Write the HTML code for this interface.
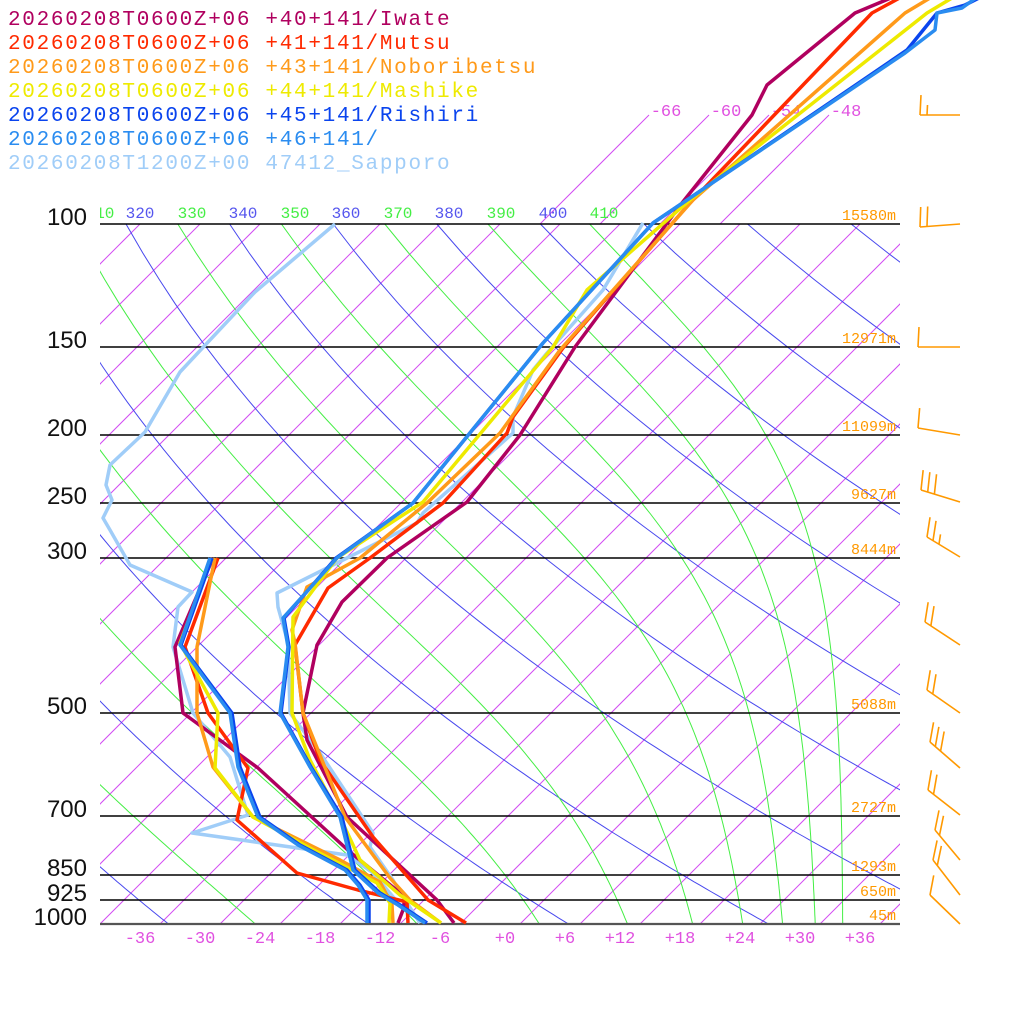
<!DOCTYPE html>
<html><head><meta charset="utf-8"><style>
html,body{margin:0;padding:0;background:#fff;}
svg{display:block;}
.lg{font-family:"Liberation Mono",monospace;font-size:21px;letter-spacing:1.7px;}
.pl{font-family:"Liberation Sans",sans-serif;font-size:24px;fill:#111;}
.tk{font-family:"Liberation Mono",monospace;font-size:17px;fill:#e050e0;}
.th{font-family:"Liberation Mono",monospace;font-size:16px;}
.hm{font-family:"Liberation Mono",monospace;font-size:15px;fill:#ff9900;}
</style></head><body>
<svg id="s" width="1024" height="1024" viewBox="0 0 1024 1024" xmlns="http://www.w3.org/2000/svg">
<defs>
<clipPath id="pc"><rect x="100" y="224" width="800" height="700"/></clipPath>
<clipPath id="pc2"><rect x="100" y="112" width="800" height="812"/></clipPath>
<clipPath id="all"><rect x="0" y="0" width="1024" height="1024"/></clipPath>
</defs>
<g id="grid"></g>
<g id="plines" stroke="#000" stroke-width="1.6">
<line x1="100" y1="224" x2="900" y2="224"/><line x1="100" y1="347" x2="900" y2="347"/>
<line x1="100" y1="435" x2="900" y2="435"/><line x1="100" y1="503" x2="900" y2="503"/>
<line x1="100" y1="558" x2="900" y2="558"/><line x1="100" y1="713" x2="900" y2="713"/>
<line x1="100" y1="816" x2="900" y2="816"/><line x1="100" y1="875" x2="900" y2="875"/>
<line x1="100" y1="900" x2="900" y2="900"/><line x1="100" y1="924" x2="900" y2="924" stroke="#555" stroke-width="2.2"/>
</g>
<g class="pl" text-anchor="end">
<text x="87" y="225">100</text><text x="87" y="348">150</text><text x="87" y="436">200</text>
<text x="87" y="504">250</text><text x="87" y="559">300</text><text x="87" y="714">500</text>
<text x="87" y="817">700</text><text x="87" y="876">850</text><text x="87" y="901">925</text>
<text x="87" y="925">1000</text>
</g>
<g class="tk" text-anchor="middle">
<text x="140" y="943">-36</text><text x="200" y="943">-30</text><text x="260" y="943">-24</text>
<text x="320" y="943">-18</text><text x="380" y="943">-12</text><text x="440" y="943">-6</text>
<text x="505" y="943">+0</text><text x="565" y="943">+6</text><text x="620" y="943">+12</text>
<text x="680" y="943">+18</text><text x="740" y="943">+24</text><text x="800" y="943">+30</text>
<text x="860" y="943">+36</text>
<text x="666" y="116">-66</text><text x="726" y="116">-60</text><text x="786" y="116">-54</text><text x="846" y="116">-48</text>
</g>
<g class="th" text-anchor="middle">
<text x="100" y="218" fill="#44ee44" clip-path="url(#pc2)">310</text>
<text x="140" y="218" fill="#5555ee">320</text><text x="192" y="218" fill="#44ee44">330</text>
<text x="243" y="218" fill="#5555ee">340</text><text x="295" y="218" fill="#44ee44">350</text>
<text x="346" y="218" fill="#5555ee">360</text><text x="398" y="218" fill="#44ee44">370</text>
<text x="449" y="218" fill="#5555ee">380</text><text x="501" y="218" fill="#44ee44">390</text>
<text x="553" y="218" fill="#5555ee">400</text><text x="604" y="218" fill="#44ee44">410</text>
</g>
<g class="hm" text-anchor="end">
<text x="896" y="220">15580m</text><text x="896" y="343">12971m</text><text x="896" y="431">11099m</text>
<text x="896" y="499">9627m</text><text x="896" y="554">8444m</text><text x="896" y="709">5088m</text>
<text x="896" y="812">2727m</text><text x="896" y="871">1293m</text><text x="896" y="896">650m</text>
<text x="896" y="920">45m</text>
</g>
<g id="series" fill="none" stroke-width="3.5" stroke-linejoin="round" clip-path="url(#all)"></g>
<g id="barbs" fill="none" stroke="#ff9900" stroke-width="1.6"></g>
<g class="lg">
<text x="8" y="25" fill="#b0005f">20260208T0600Z+06 +40+141/Iwate</text>
<text x="8" y="49" fill="#ff2a00">20260208T0600Z+06 +41+141/Mutsu</text>
<text x="8" y="73" fill="#ff9a1a">20260208T0600Z+06 +43+141/Noboribetsu</text>
<text x="8" y="97" fill="#eeea00">20260208T0600Z+06 +44+141/Mashike</text>
<text x="8" y="121" fill="#0a44ee">20260208T0600Z+06 +45+141/Rishiri</text>
<text x="8" y="145" fill="#2a8cf0">20260208T0600Z+06 +46+141/</text>
<text x="8" y="169" fill="#a0cdf8">20260208T1200Z+00 47412_Sapporo</text>
</g>
</svg>
<script>
(function(){
var NS="http://www.w3.org/2000/svg";
function el(parent,tag,attrs){var e=document.createElementNS(NS,tag);for(var k in attrs)e.setAttribute(k,attrs[k]);parent.appendChild(e);return e;}
var grid=document.getElementById('grid');
function yOf(p){return 924-700*Math.log10(1000/p);}
function xOf(Tc,y){return 500+10*Tc+(924-y);}
var gi=el(grid,'g',{stroke:'#d24cf2','stroke-width':'1','clip-path':'url(#pc)'});
for(var T=-160;T<=60;T+=6){
  el(gi,'line',{x1:xOf(T,924),y1:924,x2:xOf(T,224),y2:224});
}
var gi2=el(grid,'g',{stroke:'#d24cf2','stroke-width':'1','clip-path':'url(#pc2)'});
[-66,-60,-54,-48].forEach(function(T){el(gi2,'line',{x1:xOf(T,224),y1:224,x2:xOf(T,115),y2:115});});
var gd=el(grid,'g',{stroke:'#4848ee','stroke-width':'1',fill:'none','clip-path':'url(#pc)'});
for(var th=200;th<=460;th+=20){
  var d='';
  for(var p=1000;p>=100;p-=10){var Tk=th*Math.pow(p/1000,0.2857);var y=yOf(p);var x=xOf(Tk-273.15,y);d+=(d?'L':'M')+x.toFixed(1)+','+y.toFixed(1);}
  el(gd,'path',{d:d});
}
function the(Tk,p){var Tc=Tk-273.15;var es=6.112*Math.exp(17.67*Tc/(Tc+243.5));var rs=0.622*es/Math.max(p-es,1);return Tk*Math.pow(1000/p,0.2857)*Math.exp(2.5e6*rs/(1004*Tk));}
var gm=el(grid,'g',{stroke:'#44ee44','stroke-width':'1',fill:'none','clip-path':'url(#pc)'});
for(var E=210;E<=470;E+=20){
  var d='',first=null;
  for(var p=1000;p>=100;p-=10){
    var lo=150,hi=340;
    for(var i=0;i<50;i++){var m=(lo+hi)/2;if(the(m,p)<E)lo=m;else hi=m;}
    var y=yOf(p);var x=xOf(lo-273.15,y);if(first===null)first=x;d+=(d?'L':'M')+x.toFixed(1)+','+y.toFixed(1);
  }
  if(first<=845) el(gm,'path',{d:d});
}
var S=document.getElementById('series');
function pl(col,pts,w){el(S,'polyline',{stroke:col,'stroke-width':w||3.5,points:pts.map(function(a){return a.join(',');}).join(' ')});}
var C={iw:'#b0005f',mu:'#ff2a00',no:'#ff9a1a',ma:'#eeea00',ri:'#0a44ee',p46:'#2a8cf0',sa:'#a0cdf8'};
pl(C.sa,[[420,923],[405,900],[397,887],[393,880],[370,847],[373,833],[320,753],[290,713],[288,643],[278,607],[277,593],[297,583],[417,523],[423,513],[513,433],[513,417],[533,370],[547,353],[603,290],[643,223]]);
pl(C.sa,[[335,224],[255,292],[180,372],[145,432],[110,465],[106,485],[112,500],[103,518],[110,530],[130,565],[192,592],[178,607],[173,647],[193,713],[230,757],[248,815],[192,833],[347,855],[372,872],[400,905],[425,923]]);
pl(C.iw,[[454,923],[437,900],[347,817],[307,740],[303,713],[317,645],[342,602],[387,558],[467,502],[520,435],[575,347],[682,203],[752,115],[767,85],[855,13],[905,-8]]);
pl(C.iw,[[398,923],[403,910],[405,897],[350,852],[258,768],[183,713],[175,647],[213,558]]);
pl(C.mu,[[466,923],[428,900],[373,837],[320,760],[303,713],[295,645],[328,588],[370,558],[443,503],[507,433],[513,417],[563,348],[690,203],[872,13],[905,-5]]);
pl(C.mu,[[408,923],[407,902],[358,890],[297,873],[237,820],[248,768],[208,713],[185,647],[218,558]]);
pl(C.no,[[441,923],[410,900],[390,878],[345,817],[303,713],[295,643],[292,630],[307,587],[360,558],[427,503],[500,433],[560,350],[693,200],[905,13],[935,-5]]);
pl(C.no,[[393,923],[392,905],[380,882],[340,860],[253,817],[213,767],[197,713],[197,647],[215,558]]);
pl(C.ma,[[441,923],[400,895],[360,860],[340,817],[310,760],[292,713],[293,617],[337,558],[423,502],[553,347],[587,290],[690,200],[927,13],[957,-5]]);
pl(C.ma,[[389,923],[390,903],[377,883],[310,848],[253,817],[215,768],[218,713],[180,643],[212,558]]);
pl(C.ri,[[427,923],[400,905],[380,893],[355,870],[342,817],[311,767],[281,713],[289,647],[284,618],[336,558],[413,503],[543,343],[653,223],[687,200],[907,50],[937,13],[965,5],[985,-5]]);
pl(C.ri,[[369,923],[369,900],[360,885],[347,870],[300,845],[260,817],[240,767],[232,713],[181,645],[212,558]]);
pl(C.p46,[[425,923],[398,905],[378,893],[353,870],[340,817],[310,767],[280,713],[288,647],[283,618],[337,558],[413,503],[543,343],[653,223],[687,200],[905,53],[935,30],[937,13],[962,8],[980,-5]]);
pl(C.p46,[[367,923],[367,900],[358,885],[345,870],[298,845],[258,817],[238,767],[230,713],[180,645],[210,558]]);
var B=document.getElementById('barbs');
var bs=[[115,920,115,1,1],[224,920,227,2,0],[347,918,347,1,0],[435,918,428,1,0],[502,921,490,3,0],[557,927,537,2,1],[645,925,622,2,0],[713,927,690,2,0],[768,930,742,3,0],[815,928,790,2,0],[860,935,830,2,0],[895,933,860,2,0],[924,930,895,1,0]];
bs.forEach(function(b){
  var bx=960,by=b[0],tx=b[1],ty=b[2];
  el(B,'line',{x1:bx,y1:by,x2:tx,y2:ty});
  var dx=bx-tx,dy=by-ty,L=Math.sqrt(dx*dx+dy*dy);var ux=dx/L,uy=dy/L;
  var fx=uy*0.2+0.05,fy=-1;var fl=Math.sqrt(fx*fx+fy*fy);fx/=fl;fy/=fl;
  var k;
  for(k=0;k<b[3];k++){var sx=tx+ux*7*k,sy=ty+uy*7*k;el(B,'line',{x1:sx,y1:sy,x2:sx+fx*20,y2:sy+fy*20});}
  if(b[4]){var sx=tx+ux*7*k,sy=ty+uy*7*k;el(B,'line',{x1:sx,y1:sy,x2:sx+fx*10,y2:sy+fy*10});}
});
})();
</script>
</body></html>
